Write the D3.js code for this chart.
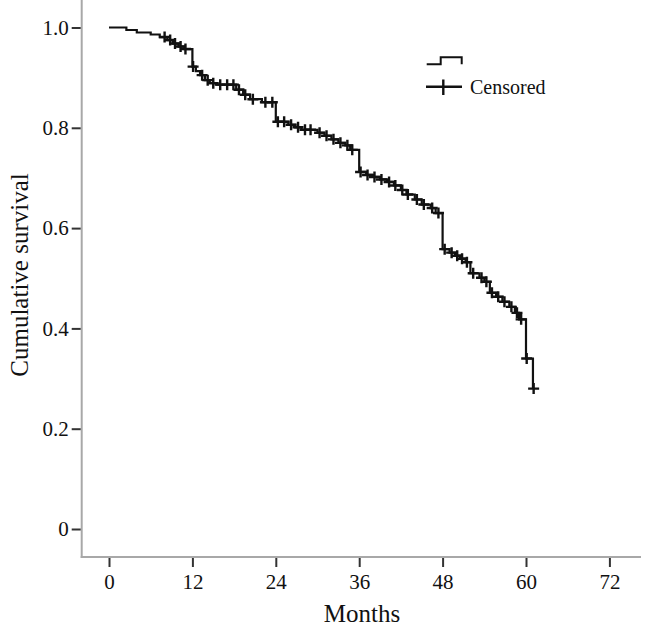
<!DOCTYPE html>
<html>
<head>
<meta charset="utf-8">
<script src="https://cdn.jsdelivr.net/npm/d3@7"></script>
<style>
  html, body { margin: 0; padding: 0; background: #ffffff; }
  svg { display: block; }
  text { font-family: "Liberation Serif", "Times New Roman", serif; fill: #111; }
</style>
</head>
<body>
<svg id="chart" width="646" height="630"></svg>
<script>
// ---- Data ----
const stepTimes = [0, 2.5, 4, 6, 7.3, 8.4, 9.2, 10, 10.9, 12, 12.5, 13.1, 13.8, 14.5, 15.5,
  18.3, 19.3, 20.3, 22, 24, 25.8, 26.8, 27.7, 30, 31, 32, 33, 34, 34.7, 36,
  37, 38, 39, 40, 41, 42, 42.8, 44, 45, 46.3, 47, 48, 49, 49.8, 50.5, 51.3,
  52, 53.3, 54, 54.8, 55.7, 56.6, 57.6, 58.4, 59, 60, 61];
const stepSurv = [1.0, 0.995, 0.99, 0.986, 0.981, 0.975, 0.968, 0.962, 0.957, 0.922, 0.913, 0.905, 0.895, 0.889, 0.886,
  0.876, 0.866, 0.857, 0.851, 0.812, 0.806, 0.801, 0.796, 0.79, 0.784, 0.777, 0.77, 0.765, 0.756, 0.712,
  0.706, 0.702, 0.697, 0.692, 0.685, 0.676, 0.667, 0.657, 0.647, 0.64, 0.63, 0.558, 0.551, 0.545, 0.539, 0.532,
  0.51, 0.501, 0.493, 0.471, 0.463, 0.453, 0.443, 0.431, 0.418, 0.34, 0.28];

const censorTimes = [8.0, 8.8, 9.5, 10.3, 11, 12.1, 13.4, 14.2, 15, 16, 17, 17.9, 18.7, 19.6, 20.7, 22.5, 23.5,
  24.3, 25.2, 26.2, 27.2, 28.2, 29, 30.3, 31.3, 32.3, 33.3, 34.3, 35, 36.2, 37.2, 38.2, 39.2, 40.3, 41.2,
  42.2, 43, 44.3, 45.3, 46.5, 47.4, 48.3, 49.3, 50.1, 50.8, 51.5, 52.4, 53.6, 54.3, 55.1, 56, 56.9, 57.9,
  58.7, 59.3, 60.1, 61.1];
const censorSurv = [0.981, 0.975, 0.968, 0.962, 0.957, 0.922, 0.905, 0.895, 0.889, 0.886, 0.886, 0.886, 0.876, 0.866, 0.857, 0.851, 0.851,
  0.812, 0.812, 0.806, 0.801, 0.796, 0.796, 0.79, 0.784, 0.777, 0.77, 0.765, 0.756, 0.712, 0.706, 0.702, 0.697, 0.692, 0.685,
  0.676, 0.667, 0.657, 0.647, 0.64, 0.63, 0.558, 0.551, 0.545, 0.539, 0.532, 0.51, 0.501, 0.493, 0.471, 0.463, 0.453, 0.443,
  0.431, 0.418, 0.34, 0.28];

const xTicks = [0, 12, 24, 36, 48, 60, 72];
const yTicks = [0, 0.2, 0.4, 0.6, 0.8, 1.0];
const yTickLabels = ["0", "0.2", "0.4", "0.6", "0.8", "1.0"];
const xTitle = "Months";
const yTitle = "Cumulative survival";
const legendLabel = "Censored";

// ---- Layout ----
const svg = d3.select("#chart");
const x = d3.scaleLinear().domain([0, 72]).range([109, 609.4]);
const y = d3.scaleLinear().domain([0, 1]).range([529, 27.5]);
const axisX = 81.7, axisY = 557;

// axis lines (gray)
svg.append("line").attr("x1", axisX).attr("x2", axisX).attr("y1", 0).attr("y2", axisY + 1)
  .attr("stroke", "#a8a8a8").attr("stroke-width", 2);
svg.append("line").attr("x1", axisX - 1).attr("x2", 641).attr("y1", axisY).attr("y2", axisY)
  .attr("stroke", "#a8a8a8").attr("stroke-width", 2);

// y axis ticks
const yAxis = d3.axisLeft(y).tickValues(yTicks).tickSize(9).tickPadding(3)
  .tickFormat((d, i) => yTickLabels[i]);
const gy = svg.append("g").attr("transform", `translate(${axisX - 1},0)`).call(yAxis);
gy.select(".domain").remove();
gy.selectAll(".tick line").attr("stroke", "#333").attr("stroke-width", 2);
gy.selectAll(".tick text").attr("font-size", 21).attr("font-family", "Liberation Serif").attr("fill", "#111");

// x axis ticks
const xAxis = d3.axisBottom(x).tickValues(xTicks).tickSize(9).tickPadding(7)
  .tickFormat(d3.format("d"));
const gx = svg.append("g").attr("transform", `translate(0,${axisY + 1})`).call(xAxis);
gx.select(".domain").remove();
gx.selectAll(".tick line").attr("stroke", "#333").attr("stroke-width", 2);
gx.selectAll(".tick text").attr("font-size", 21).attr("font-family", "Liberation Serif").attr("fill", "#111");

// titles
svg.append("text").attr("x", 362).attr("y", 622).attr("text-anchor", "middle")
  .attr("font-size", 25).text(xTitle);
svg.append("text").attr("transform", "translate(28,275) rotate(-90)").attr("text-anchor", "middle")
  .attr("font-size", 25).text(yTitle);

// survival curve
const pts = stepTimes.map((t, i) => [t, stepSurv[i]]);
const line = d3.line().x(d => x(d[0])).y(d => y(d[1])).curve(d3.curveStepAfter);
svg.append("path").attr("d", line(pts)).attr("fill", "none")
  .attr("stroke", "#111").attr("stroke-width", 2.2);

// censored marks
const h = 5.5;
svg.append("g").selectAll("path").data(censorTimes.map((t, i) => [t, censorSurv[i]])).join("path")
  .attr("d", d => {
    const cx = x(d[0]), cy = y(d[1]);
    return `M${cx - h},${cy}H${cx + h}M${cx},${cy - h}V${cy + h}`;
  })
  .attr("stroke", "#111").attr("stroke-width", 2.4).attr("fill", "none");

// legend
const lg = svg.append("g");
lg.append("path").attr("d", "M426.7,64.3H440.7V57.3H461.7V64.3")
  .attr("fill", "none").attr("stroke", "#111").attr("stroke-width", 2);
lg.append("path").attr("d", "M426,86.7H462M443.3,79.5V95")
  .attr("fill", "none").attr("stroke", "#111").attr("stroke-width", 2.4);
lg.append("text").attr("x", 470).attr("y", 94).attr("font-size", 20).text(legendLabel);
</script>
</body>
</html>
